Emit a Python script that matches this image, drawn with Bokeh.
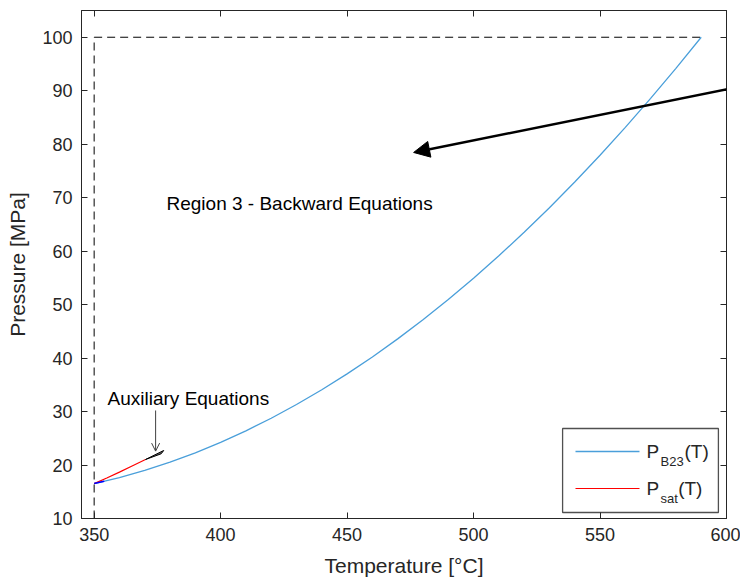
from bokeh.plotting import figure
from bokeh.models import (Range1d, LinearAxis, FixedTicker, Arrow, NormalHead, OpenHead,
                          Label, CustomJSTickFormatter)
from bokeh.embed import file_html
from bokeh.resources import INLINE

# ---- data ----
t_b23 = [350, 360, 370, 380, 390, 400, 410, 420, 430, 440, 450, 460, 470,
         480, 490, 500, 510, 520, 530, 540, 550, 560, 570, 580, 590]
p_b23 = [16.53, 17.66, 19.00, 20.54, 22.29, 24.24, 26.39, 28.75, 31.31, 34.07,
         37.04, 40.21, 43.59, 47.17, 50.95, 54.94, 59.13, 63.53, 68.12, 72.93,
         77.93, 83.15, 88.56, 94.18, 100.00]
t_sat = [350, 355, 360, 365, 370.3]
p_sat = [16.53, 17.57, 18.67, 19.82, 21.03]
t_start = [350, 354]
p_start = [16.53, 16.96]
t_aux = [370.3, 377.5, 376.5, 370.3]
p_aux = [21.03, 22.72, 22.10, 21.03]
t_bound_v = [350, 350]
p_bound_v = [10, 100]
t_bound_h = [350, 590]
p_bound_h = [100, 100]
x_ticks = [350, 400, 450, 500, 550, 600]
y_ticks = [10, 20, 30, 40, 50, 60, 70, 80, 90, 100]

FONT = "Liberation Sans"
DARK = "#262626"
BLUE = "#4A9FDA"

p = figure(width=740, height=579, output_backend="svg", toolbar_location=None,
           x_range=Range1d(345, 600), y_range=Range1d(10, 105),
           min_border_left=81, min_border_right=14, min_border_top=10, min_border_bottom=61,
           background_fill_color="white", border_fill_color="white")
p.grid.visible = False
p.outline_line_color = DARK
p.outline_line_width = 1

for ax in (p.xaxis[0], p.yaxis[0]):
    ax.major_tick_in = 6
    ax.major_tick_out = 0
    ax.minor_tick_line_color = None
    ax.axis_line_color = DARK
    ax.major_tick_line_color = DARK
    ax.major_label_text_font = FONT
    ax.major_label_text_font_size = "18px"
    ax.major_label_text_color = DARK
    ax.axis_label_text_font = FONT
    ax.axis_label_text_font_size = "21px"
    ax.axis_label_text_font_style = "normal"
    ax.axis_label_text_color = DARK
    ax.major_label_standoff = 9
    ax.axis_label_standoff = 10

p.xaxis[0].ticker = FixedTicker(ticks=x_ticks)
p.yaxis[0].ticker = FixedTicker(ticks=y_ticks)
p.xaxis[0].axis_label = "Temperature [°C]"
p.yaxis[0].axis_label = "Pressure [MPa]"

blank = CustomJSTickFormatter(code="return ''")
top = LinearAxis(ticker=FixedTicker(ticks=x_ticks), formatter=blank, major_tick_in=6,
                 major_tick_out=0, minor_tick_line_color=None, axis_line_color=DARK,
                 major_tick_line_color=DARK, major_label_standoff=0)
right = LinearAxis(ticker=FixedTicker(ticks=y_ticks), formatter=blank, major_tick_in=6,
                   major_tick_out=0, minor_tick_line_color=None, axis_line_color=DARK,
                   major_tick_line_color=DARK, major_label_standoff=0)
p.add_layout(top, "above")
p.add_layout(right, "right")

# boundaries
p.line(t_bound_v, p_bound_v, line_color="black", line_width=1, line_dash="8 5")
p.line(t_bound_h, p_bound_h, line_color="black", line_width=1, line_dash="8 5")

# curves
p.line(t_b23, p_b23, line_color=BLUE, line_width=1.3)
p.line(t_sat, p_sat, line_color="#FF0000", line_width=1.2)
p.line(t_start, p_start, line_color="#0000FF", line_width=1.5)
p.patch(t_aux, p_aux, fill_color="black", fill_alpha=0.6, line_color="black", line_width=1)

# big arrow (tail given in frame-relative screen units so it can reach the page edge)
p.add_layout(Arrow(x_start=659, y_start=432, start_units="screen",
                   x_end=476.3, y_end=78.45,
                   line_color="black", line_width=2.5, level="overlay",
                   end=NormalHead(size=16, fill_color="black", line_color="black")))
# small arrow
p.add_layout(Arrow(x_start=374.3, y_start=30.2, x_end=374.3, y_end=22.6,
                   line_color="#404040", line_width=1,
                   end=OpenHead(size=8, line_color="#404040", line_width=1)))

p.add_layout(Label(x=378.6, y=68.9, text="Region 3 - Backward Equations",
                   text_font=FONT, text_font_size="19px", text_color="black",
                   text_baseline="middle", text_align="left"))
p.add_layout(Label(x=355.3, y=32.44, text="Auxiliary Equations",
                   text_font=FONT, text_font_size="19px", text_color="black",
                   text_baseline="middle", text_align="left"))

# legend (manual, for subscripts)
p.quad(left=[535.2], right=[596.8], bottom=[11.12], top=[26.83],
       fill_color="white", line_color="#505050", line_width=1.3)
p.line([540.3, 565.6], [22.53, 22.53], line_color=BLUE, line_width=1.3)
p.line([540.3, 565.6], [15.61, 15.61], line_color="#FF0000", line_width=1.2)
for x, y, txt, size in [(568.4, 22.53, "P", "19px"), (573.9, 20.66, "B23", "13px"),
                        (583.4, 22.53, "(T)", "19px"),
                        (568.4, 15.61, "P", "19px"), (573.9, 13.74, "sat", "13px"),
                        (580.9, 15.61, "(T)", "19px")]:
    p.add_layout(Label(x=x, y=y, text=txt, text_font=FONT, text_font_size=size,
                       text_color=DARK, text_baseline="middle", text_align="left"))

open("out.html", "w").write(file_html(p, INLINE))
